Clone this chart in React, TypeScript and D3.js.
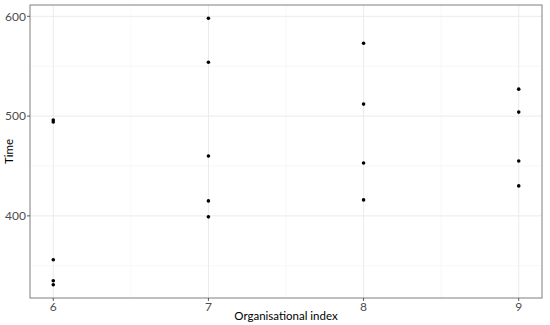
import React from "react";
import * as d3 from "d3";

const width = 550;
const height = 325;
const margin = { top: 5, right: 8, bottom: 27, left: 30 };

// organisational index and time for each observation
const orgIndex = [6, 6, 6, 6, 6, 7, 7, 7, 7, 7, 8, 8, 8, 8, 9, 9, 9, 9];
const times = [496, 494, 356, 335, 331, 598, 554, 460, 415, 399, 573, 512, 453, 416, 527, 504, 455, 430];

const xTicks = [6, 7, 8, 9];
const yTicks = [400, 500, 600];
const xMinor = [6.5, 7.5, 8.5];
const yMinor = [350, 450, 550];

const font = "Lato, 'Open Sans', sans-serif";

export default function App() {
  const innerW = width - margin.left - margin.right;
  const innerH = height - margin.top - margin.bottom;

  const xExt = d3.extent(orgIndex) as [number, number];
  const yExt = d3.extent(times) as [number, number];
  const xPad = (xExt[1] - xExt[0]) * 0.05;
  const yPad = (yExt[1] - yExt[0]) * 0.05;

  const x = d3.scaleLinear().domain([xExt[0] - xPad, xExt[1] + xPad]).range([0, innerW]);
  const y = d3.scaleLinear().domain([yExt[0] - yPad, yExt[1] + yPad]).range([innerH, 0]);

  return (
    <svg width={width} height={height} style={{ position: "absolute", left: 0, top: 0 }}>
      <rect width={width} height={height} fill="#fff" />
      <g transform={`translate(${margin.left},${margin.top})`}>
        {yMinor.map(v => (
          <line key={"ym" + v} x1={0} x2={innerW} y1={y(v)} y2={y(v)} stroke="#f2f2f2" strokeWidth={0.6} />
        ))}
        {xMinor.map(v => (
          <line key={"xm" + v} x1={x(v)} x2={x(v)} y1={0} y2={innerH} stroke="#f2f2f2" strokeWidth={0.6} />
        ))}
        {yTicks.map(v => (
          <line key={"yg" + v} x1={0} x2={innerW} y1={y(v)} y2={y(v)} stroke="#ebebeb" strokeWidth={1} />
        ))}
        {xTicks.map(v => (
          <line key={"xg" + v} x1={x(v)} x2={x(v)} y1={0} y2={innerH} stroke="#ebebeb" strokeWidth={1} />
        ))}
        {orgIndex.map((d, i) => (
          <circle key={i} cx={x(d)} cy={y(times[i])} r={1.8} fill="#000" />
        ))}
        <rect x={0} y={0} width={innerW} height={innerH} fill="none" stroke="#7f7f7f" strokeWidth={1} />
        {yTicks.map(v => (
          <g key={"yt" + v}>
            <line x1={-3} x2={0} y1={y(v)} y2={y(v)} stroke="#333" strokeWidth={0.8} />
            <text x={-4} y={y(v)} dy="0.35em" textAnchor="end" fontSize={12} fill="#4d4d4d" fontFamily={font}>
              {v}
            </text>
          </g>
        ))}
        {xTicks.map(v => (
          <g key={"xt" + v}>
            <line x1={x(v)} x2={x(v)} y1={innerH} y2={innerH + 3} stroke="#333" strokeWidth={0.8} />
            <text x={x(v)} y={innerH + 13} textAnchor="middle" fontSize={12} fill="#4d4d4d" fontFamily={font}>
              {v}
            </text>
          </g>
        ))}
      </g>
      <text x={margin.left + innerW / 2} y={320} textAnchor="middle" fontSize={11.5} fill="#000" fontFamily={font}>
        Organisational index
      </text>
      <text transform={`translate(13,${margin.top + innerH / 2}) rotate(-90)`} textAnchor="middle" fontSize={11.5} fill="#000" fontFamily={font}>
        Time
      </text>
    </svg>
  );
}
